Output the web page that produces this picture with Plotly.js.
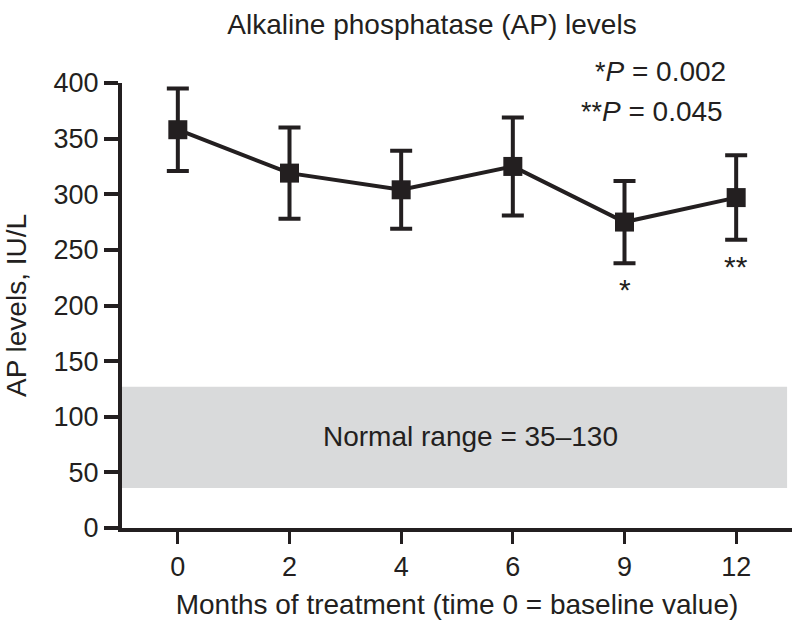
<!DOCTYPE html>
<html>
<head>
<meta charset="utf-8">
<script src="https://cdn.plot.ly/plotly-3.0.1.min.js"></script>
<style>
  html, body { margin: 0; padding: 0; background: #fff; }
  #ap-graph { width: 800px; height: 633px; }
</style>
</head>
<body>
<div id="ap-graph"></div>
<script>
// data
var months = ['0', '2', '4', '6', '9', '12'];
var ap_means = [358, 319, 304, 325, 275, 297];
var ap_errors = [37, 41, 35, 44, 37, 38];
var normal_low = 36;
var normal_high = 127;
// significance marks sit under the month 9 and month 12 points (category index 4 and 5)
var sig_index = [4, 5];
var sig_marks = ['*', '**'];
var sig_y = [214, 235];

var ink = '#231f20';
var fontFam = '"Liberation Sans", Arial, Helvetica, sans-serif';

function apLevels() {

    var trace = {
        x: months,
        y: ap_means,
        type: 'scatter',
        mode: 'lines+markers',
        line: {color: ink, width: 4},
        marker: {symbol: 'square', size: 19, color: ink},
        error_y: {
            type: 'data',
            array: ap_errors,
            visible: true,
            color: ink,
            thickness: 4,
            width: 11
        },
        hoverinfo: 'x+y',
        showlegend: false
    };

    var annotations = [
        {
            text: 'Normal range = 35\u2013130',
            x: 2.62, y: (normal_low + normal_high) / 2 + 1,
            xref: 'x', yref: 'y',
            showarrow: false,
            font: {size: 28, color: ink}
        },
        {
            text: '<span style="font-size:27px">*</span><i>P</i> = 0.002',
            x: 4.93, y: 1.025,
            xref: 'x', yref: 'paper',
            xanchor: 'right', yanchor: 'middle',
            showarrow: false,
            font: {size: 28, color: ink}
        },
        {
            text: '<span style="font-size:27px">**</span><i>P</i> = 0.045',
            x: 4.9, y: 374,
            xref: 'x', yref: 'y',
            xanchor: 'right', yanchor: 'middle',
            showarrow: false,
            font: {size: 28, color: ink}
        }
    ];

    for (var i = 0; i < sig_index.length; i++) {
        annotations.push({
            text: sig_marks[i],
            x: sig_index[i], y: sig_y[i],
            xref: 'x', yref: 'y',
            showarrow: false,
            font: {size: 30, color: ink}
        });
    }

    var layout = {
        width: 800,
        height: 633,
        margin: {l: 122, r: 8, t: 83, b: 105, pad: 0},
        paper_bgcolor: '#ffffff',
        plot_bgcolor: '#ffffff',
        font: {family: fontFam, color: ink, size: 27},
        title: {
            text: 'Alkaline phosphatase (AP) levels',
            font: {size: 28, color: ink},
            xref: 'container', x: 432 / 800, xanchor: 'center',
            yref: 'container', y: 1 - 24 / 633, yanchor: 'middle'
        },
        xaxis: {
            type: 'category',
            range: [-0.5, 5.5],
            showline: true,
            linecolor: ink,
            linewidth: 4,
            showgrid: false,
            zeroline: false,
            ticks: 'outside',
            ticklen: 12,
            tickwidth: 3,
            tickcolor: ink,
            tickfont: {size: 27, color: ink},
            title: {
                text: 'Months of treatment (time 0 = baseline value)',
                font: {size: 28, color: ink},
                standoff: 14
            },
            fixedrange: true
        },
        yaxis: {
            range: [0, 400],
            tickvals: [0, 50, 100, 150, 200, 250, 300, 350, 400],
            showline: true,
            linecolor: ink,
            linewidth: 4,
            showgrid: false,
            zeroline: false,
            ticks: 'outside',
            ticklen: 14,
            tickwidth: 4,
            tickcolor: ink,
            tickfont: {size: 27, color: ink},
            title: {
                text: 'AP levels, IU/L',
                font: {size: 28, color: ink},
                standoff: 20
            },
            fixedrange: true
        },
        shapes: [
            // normal range band
            {
                type: 'rect', layer: 'below',
                xref: 'x', yref: 'y',
                x0: -0.5, x1: 5.456,
                y0: normal_low, y1: normal_high,
                fillcolor: '#d9dadb',
                line: {width: 0}
            },
            // x axis stub sticking out left of the y axis
            {
                type: 'line', layer: 'above',
                xref: 'paper', yref: 'paper',
                x0: -0.022, x1: 0, y0: 0, y1: 0,
                line: {color: ink, width: 4}
            }
        ],
        annotations: annotations
    };

    Plotly.newPlot('ap-graph', [trace], layout, {displayModeBar: false, staticPlot: true});
}

apLevels();
</script>
</body>
</html>
